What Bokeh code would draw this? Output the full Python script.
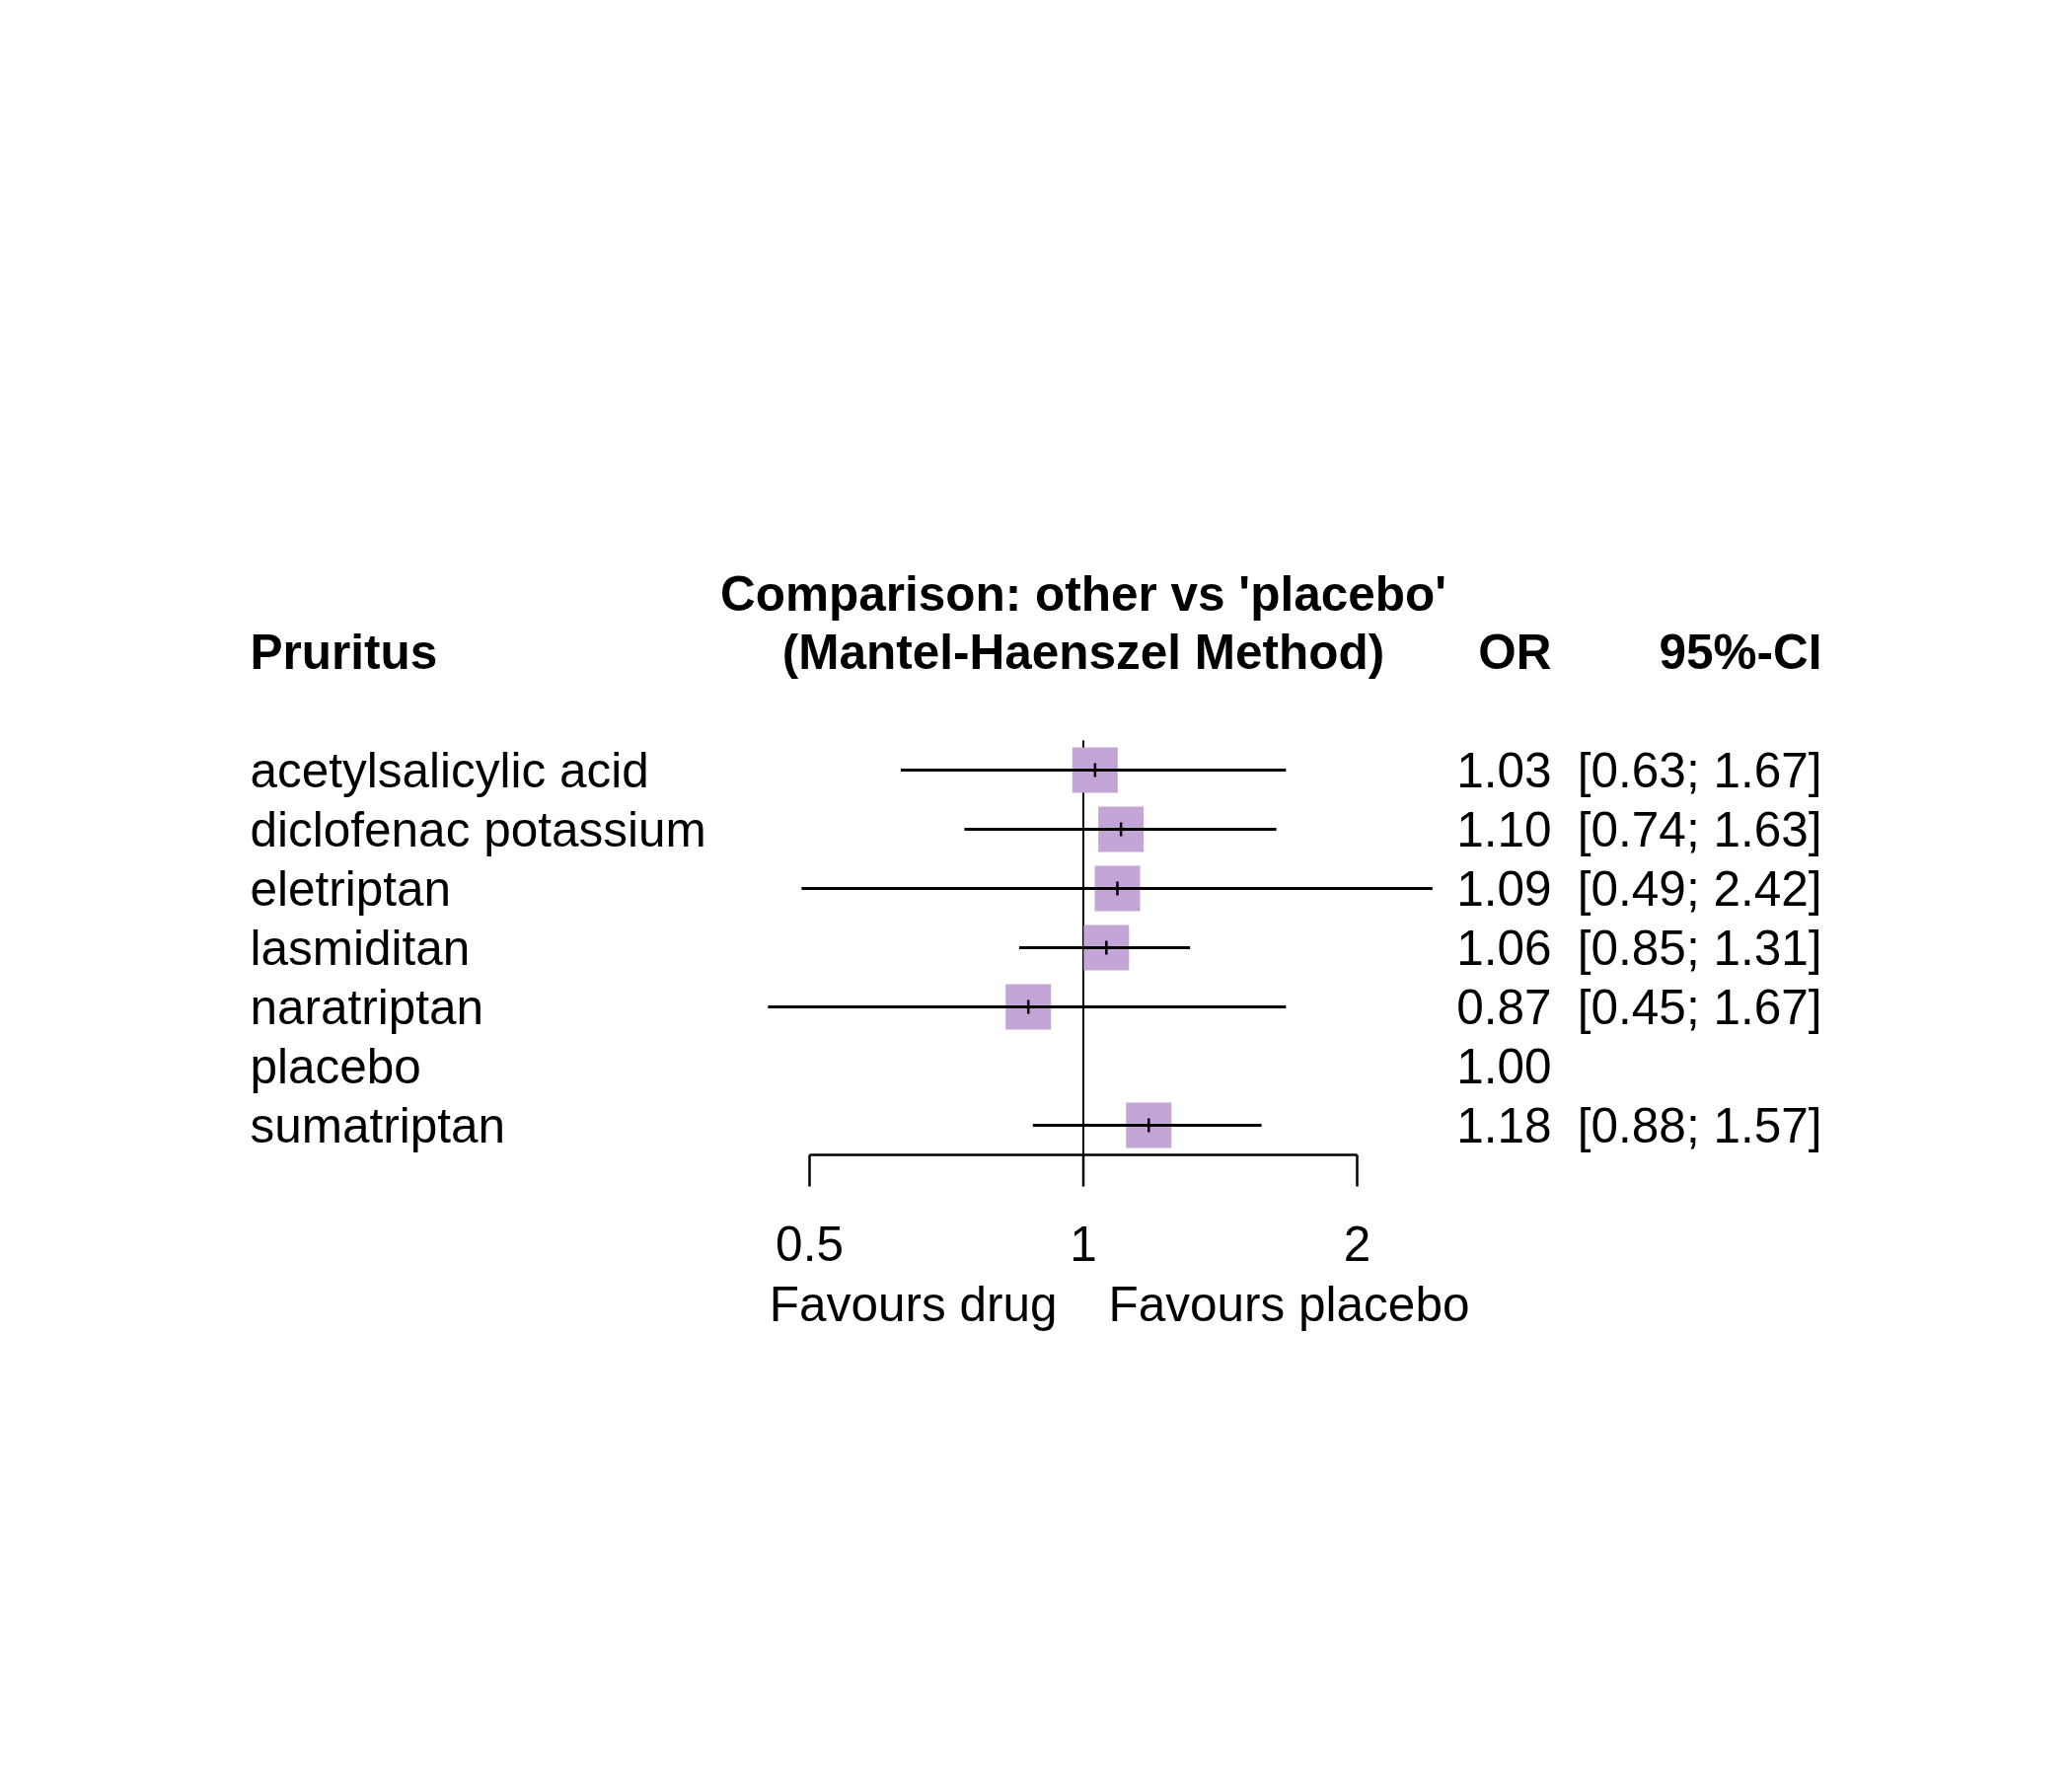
from bokeh.plotting import figure
from bokeh.models import Range1d
from bokeh.core.properties import value
from bokeh.embed import file_html
from bokeh.resources import INLINE

# ---------------- data ----------------
drugs = ["acetylsalicylic acid", "diclofenac potassium", "eletriptan",
         "lasmiditan", "naratriptan", "placebo", "sumatriptan"]
or_vals = [1.03, 1.10, 1.09, 1.06, 0.87, 1.00, 1.18]
lower = [0.63, 0.74, 0.49, 0.85, 0.45, None, 0.88]
upper = [1.67, 1.63, 2.42, 1.31, 1.67, None, 1.57]
tick_vals = [0.5, 1, 2]
tick_labels = ["0.5", "1", "2"]
header_left = "Pruritus"
title_lines = ["Comparison: other vs 'placebo'", "(Mantel-Haenszel Method)"]
header_or = "OR"
header_ci = "95%-CI"
label_left = "Favours drug"
label_right = "Favours placebo"

# ---------------- layout helpers ----------------
W, H = 2100, 1800
PX_REF = 1097.5          # pixel of OR = 1
PX_PER_DEC = 921.8       # pixels per log10 unit
ROW_PX = 60.0
ROW0_PX = 780.0


def px_x(px):
    return 10 ** ((px - PX_REF) / PX_PER_DEC)


def px_y(py):
    return (ROW0_PX - py) / ROW_PX


FONT = value("Liberation Sans")
FS = "49.5px"

p = figure(width=W, height=H, x_axis_type="log",
           x_range=Range1d(px_x(0), px_x(W)), y_range=Range1d(px_y(H), px_y(0)),
           output_backend="svg", toolbar_location=None, min_border=0)
p.axis.visible = False
p.grid.visible = False
p.outline_line_color = None
p.background_fill_color = "white"
p.border_fill_color = "white"

rows = [-i for i in range(len(drugs))]

# reference line at OR = 1
p.segment(x0=[1], y0=[px_y(750)], x1=[1], y1=[px_y(1170)], line_color="black", line_width=2)

# squares (no square for the reference treatment)
sq = [(o, r) for o, r, lo in zip(or_vals, rows, lower) if lo is not None]
p.scatter(x=[s[0] for s in sq], y=[s[1] for s in sq], marker="square", size=46,
          fill_color="#C4A5D7", line_color=None)

# confidence intervals
ci = [(lo, hi, r) for lo, hi, r in zip(lower, upper, rows) if lo is not None]
p.segment(x0=[c[0] for c in ci], y0=[c[2] for c in ci], x1=[c[1] for c in ci], y1=[c[2] for c in ci],
          line_color="black", line_width=3)
# estimate marks
h = 7 / ROW_PX
p.segment(x0=[s[0] for s in sq], y0=[s[1] - h for s in sq], x1=[s[0] for s in sq], y1=[s[1] + h for s in sq],
          line_color="black", line_width=2.5)

# x axis (drawn)
ay = px_y(1170)
p.segment(x0=[min(tick_vals)], y0=[ay], x1=[max(tick_vals)], y1=[ay], line_color="black", line_width=2.5)
p.segment(x0=tick_vals, y0=[ay] * 3, x1=tick_vals, y1=[px_y(1202)] * 3, line_color="black", line_width=2.5)
p.text(x=tick_vals, y=[px_y(1260)] * 3, text=tick_labels, text_align="center", text_baseline="middle",
       text_font=FONT, text_font_size=FS, text_color="black")
p.text(x=[px_x(1071)], y=[px_y(1321)], text=[label_left], text_align="right", text_baseline="middle",
       text_font=FONT, text_font_size=FS, text_color="black")
p.text(x=[px_x(1123)], y=[px_y(1321)], text=[label_right], text_align="left", text_baseline="middle",
       text_font=FONT, text_font_size=FS, text_color="black")

# left labels
p.text(x=[px_x(253)] * len(drugs), y=rows, text=drugs, text_align="left", text_baseline="middle",
       text_font=FONT, text_font_size=FS, text_color="black")

# OR and CI columns
p.text(x=[px_x(1572)] * len(drugs), y=rows, text=["%.2f" % v for v in or_vals], text_align="right",
       text_baseline="middle", text_font=FONT, text_font_size=FS, text_color="black")
ci_txt = ["[%.2f; %.2f]" % (lo, hi) if lo is not None else "" for lo, hi in zip(lower, upper)]
p.text(x=[px_x(1846)] * len(drugs), y=rows, text=ci_txt, text_align="right",
       text_baseline="middle", text_font=FONT, text_font_size=FS, text_color="black")

# headers
hy = px_y(660)
p.text(x=[px_x(253)], y=[hy], text=[header_left], text_align="left", text_baseline="middle",
       text_font=FONT, text_font_size=FS, text_font_style="bold", text_color="black")
p.text(x=[1, 1], y=[px_y(601), hy], text=title_lines, text_align="center", text_baseline="middle",
       text_font=FONT, text_font_size=FS, text_font_style="bold", text_color="black")
p.text(x=[px_x(1572)], y=[hy], text=[header_or], text_align="right", text_baseline="middle",
       text_font=FONT, text_font_size=FS, text_font_style="bold", text_color="black")
p.text(x=[px_x(1846)], y=[hy], text=[header_ci], text_align="right", text_baseline="middle",
       text_font=FONT, text_font_size=FS, text_font_style="bold", text_color="black")

open("out.html", "w").write(file_html(p, INLINE))
